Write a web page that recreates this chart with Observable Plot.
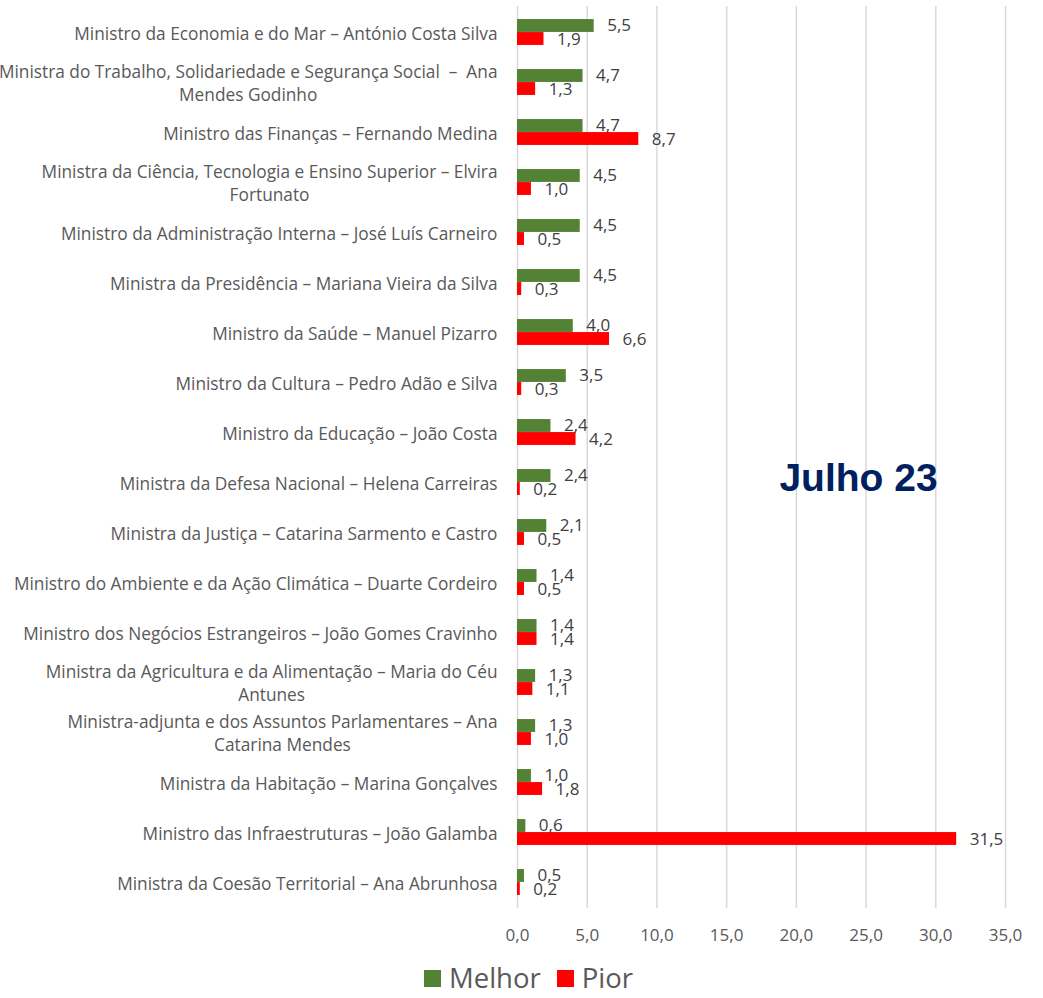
<!DOCTYPE html>
<html><head><meta charset="utf-8">
<script src="https://cdn.jsdelivr.net/npm/d3@7"></script>
<script src="https://cdn.jsdelivr.net/npm/@observablehq/plot@0.6"></script>
<style>
body{margin:0;background:#fff;font-family:"Open Sans",sans-serif;}
#chart svg{display:block;}
#legend{box-sizing:border-box;display:flex;justify-content:center;align-items:center;height:40px;padding-top:6px;padding-left:14px;color:#595959;font-size:27.5px;line-height:1.1;}
#legend .item{display:flex;align-items:center;margin:0 8px;}
#legend .sw{width:17px;height:17px;margin-right:8px;display:inline-block;}
</style></head><body><div id="chart"></div><div id="legend"></div>
<script>
const ministers = [
  "Ministro da Economia e do Mar – António Costa Silva",
  "Ministra do Trabalho, Solidariedade e Segurança Social  –  Ana\nMendes Godinho",
  "Ministro das Finanças – Fernando Medina",
  "Ministra da Ciência, Tecnologia e Ensino Superior – Elvira\nFortunato",
  "Ministro da Administração Interna – José Luís Carneiro",
  "Ministra da Presidência – Mariana Vieira da Silva",
  "Ministro da Saúde – Manuel Pizarro",
  "Ministro da Cultura – Pedro Adão e Silva",
  "Ministro da Educação – João Costa",
  "Ministra da Defesa Nacional – Helena Carreiras",
  "Ministra da Justiça – Catarina Sarmento e Castro",
  "Ministro do Ambiente e da Ação Climática – Duarte Cordeiro",
  "Ministro dos Negócios Estrangeiros – João Gomes Cravinho",
  "Ministra da Agricultura e da Alimentação – Maria do Céu\nAntunes",
  "Ministra-adjunta e dos Assuntos Parlamentares – Ana\nCatarina Mendes",
  "Ministra da Habitação – Marina Gonçalves",
  "Ministro das Infraestruturas – João Galamba",
  "Ministra da Coesão Territorial – Ana Abrunhosa"
];
const melhor = [5.5, 4.7, 4.7, 4.5, 4.5, 4.5, 4.0, 3.5, 2.4, 2.4, 2.1, 1.4, 1.4, 1.3, 1.3, 1.0, 0.6, 0.5];
const pior   = [1.9, 1.3, 8.7, 1.0, 0.5, 0.3, 6.6, 0.3, 4.2, 0.2, 0.5, 0.5, 1.4, 1.1, 1.0, 1.8, 31.5, 0.2];
const seriesNames = ["Melhor", "Pior"];
const seriesColors = ["#548235", "#FF0000"];
const xTicks = [0, 5, 10, 15, 20, 25, 30, 35];
const annotation = "Julho 23";

const rows = ministers.map((m, i) => ({minister: m, melhor: melhor[i], pior: pior[i]}));
const fmt = d => d.toFixed(1).replace(".", ",");
const half = 902 / 18 / 2;
const barH = 13;

const chart = Plot.plot({
  width: 1043, height: 955,
  marginLeft: 517, marginRight: 38, marginTop: 6, marginBottom: 47,
  style: {fontFamily: "Open Sans", fontSize: "17px", background: "#fff"},
  x: {domain: [0, 35], ticks: xTicks, tickFormat: fmt, label: null},
  y: {domain: ministers, padding: 0, label: null},
  marks: [
    Plot.ruleX(xTicks, {stroke: "#d9d9d9", strokeWidth: 1.5}),
    Plot.barX(rows, {x: "melhor", y: "minister", fill: seriesColors[0], insetTop: half - barH, insetBottom: half}),
    Plot.barX(rows, {x: "pior", y: "minister", fill: seriesColors[1], insetTop: half, insetBottom: half - barH}),
    Plot.text(rows, {x: "melhor", y: "minister", text: d => fmt(d.melhor), dx: 13, dy: -6.5, textAnchor: "start", fill: "#404040", fontSize: 17}),
    Plot.text(rows, {x: "pior", y: "minister", text: d => fmt(d.pior), dx: 13, dy: 7, textAnchor: "start", fill: "#404040", fontSize: 17}),
    Plot.axisX({ticks: xTicks, tickFormat: fmt, tickSize: 0, tickPadding: 20, fontSize: 17, fill: "#595959", label: null}),
    Plot.axisY({tickSize: 0, tickPadding: 20, fontSize: 17.3, fill: "#595959", lineHeight: 1.32, label: null}),
    Plot.text([annotation], {frameAnchor: "middle", dx: 97, dy: 21, fontSize: 39, fontWeight: "bold", fontFamily: "Liberation Sans, Arial, sans-serif", fill: "#002060"})
  ]
});
document.getElementById("chart").append(chart);

// center multi-line category labels (as in the original)
chart.querySelectorAll('g[aria-label="y-axis tick label"] text').forEach(t => {
  const spans = t.querySelectorAll("tspan");
  if (spans.length > 1) {
    let w = 0;
    spans.forEach(s => { w = Math.max(w, s.getComputedTextLength()); });
    t.setAttribute("text-anchor", "middle");
    spans.forEach(s => s.setAttribute("x", -w / 2));
  }
});

const legend = document.getElementById("legend");
seriesNames.forEach((n, i) => {
  const it = document.createElement("div");
  it.className = "item";
  const sw = document.createElement("span");
  sw.className = "sw";
  sw.style.background = seriesColors[i];
  it.append(sw, document.createTextNode(n));
  legend.append(it);
});
</script></body></html>
